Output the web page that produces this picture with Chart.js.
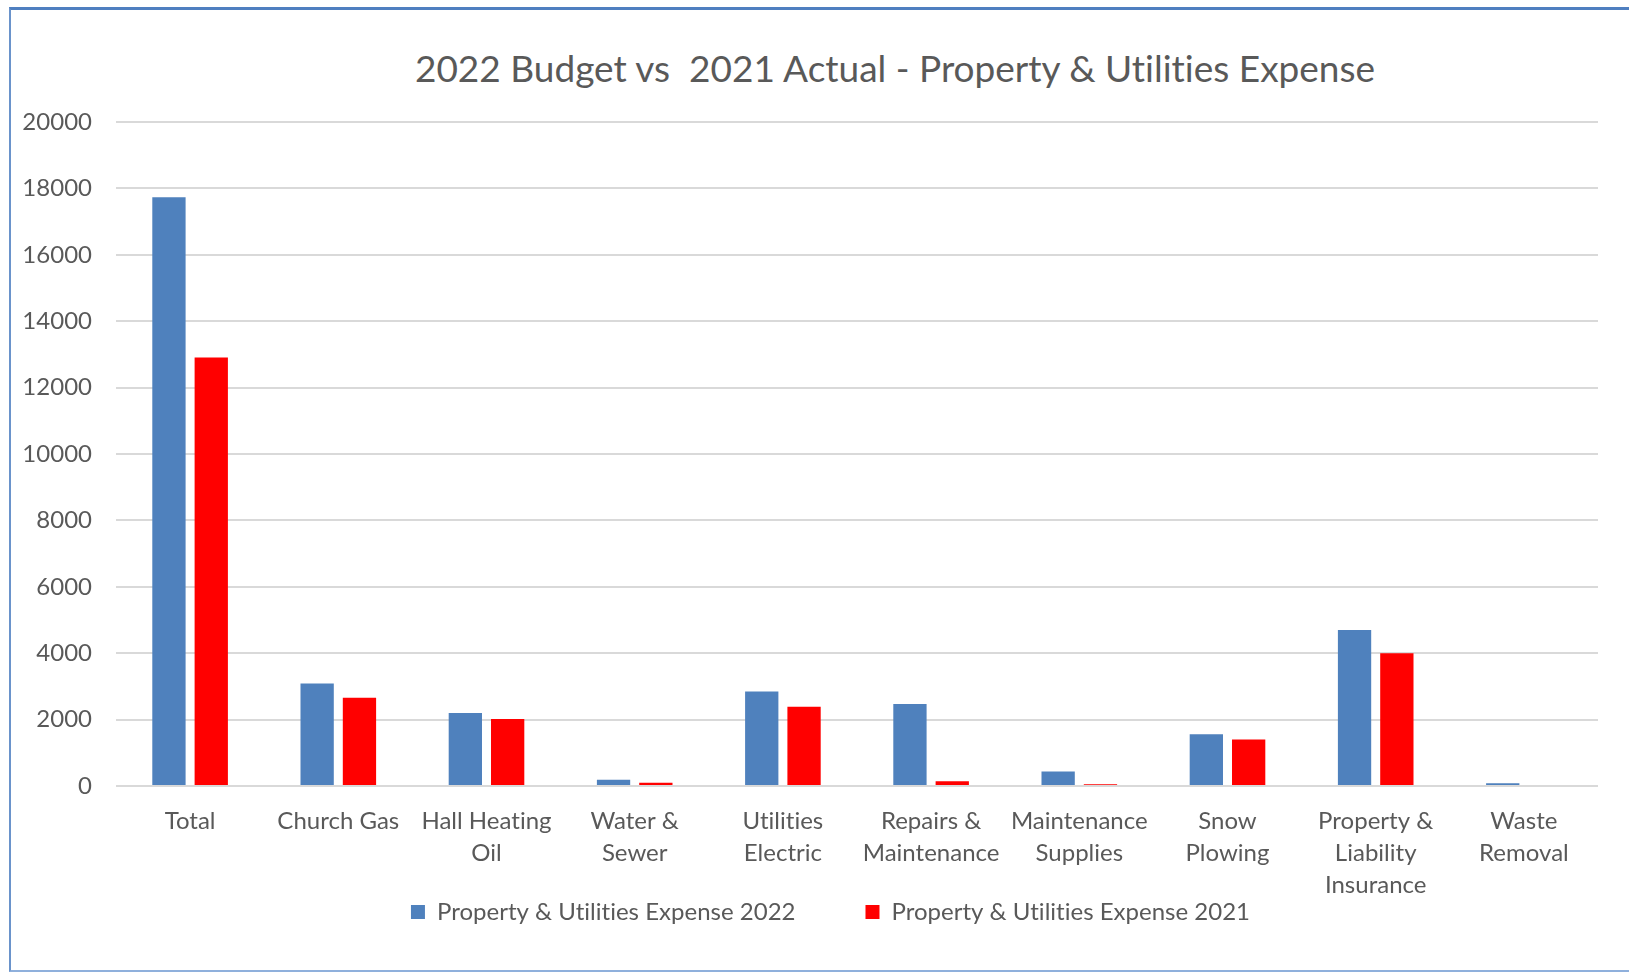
<!DOCTYPE html>
<html>
<head>
<meta charset="utf-8">
<script src="https://cdn.jsdelivr.net/npm/chart.js@4"></script>
<style>
    body { margin: 0; background: #fff; overflow: hidden; width: 1629px; height: 973px; position: relative; }
    #frame {
        position: absolute; left: 9px; top: 7px; width: 1700px; height: 960px;
        border-top: 3px solid #4f7fc0; border-left: 2px solid #6a93cb; border-bottom: 2px solid #8fb0dc;
    }
    #title {
        position: absolute; left: 0; top: 45px; width: 1790px; text-align: center;
        font-family: Lato, sans-serif; font-size: 37px; color: #595959; white-space: pre;
        font-variant-ligatures: none;
    }
    #wrap { position: absolute; left: 0; top: 0; width: 1629px; height: 973px; }
</style>
</head>
<body>
<div id="frame"></div>
<div id="title">2022 Budget vs  2021 Actual - Property &amp; Utilities Expense</div>
<div id="wrap"><canvas id="chart"></canvas></div>
<script>
const categories = [
    "Total",
    "Church Gas",
    ["Hall Heating", "Oil"],
    ["Water &", "Sewer"],
    ["Utilities", "Electric"],
    ["Repairs &", "Maintenance"],
    ["Maintenance", "Supplies"],
    ["Snow", "Plowing"],
    ["Property &", "Liability", "Insurance"],
    ["Waste", "Removal"]
];
const expense2022 = [17730, 3090, 2200, 190, 2850, 2470, 440, 1560, 4700, 80];
const expense2021 = [12910, 2660, 2015, 100, 2385, 145, 50, 1400, 3995, 0];
const yTicks = [0, 2000, 4000, 6000, 8000, 10000, 12000, 14000, 16000, 18000, 20000];

const grey = "#595959";

// tick labels may spill outside their scale box (legend sits close under the axis)
function noLabelClip(scale) {
    scale._computeLabelArea = () => undefined;
}

// a tiny letter spacing keeps Lato from joining "ti" into a ligature
const noLigatures = {
    id: "noLigatures",
    beforeDraw: chart => { chart.ctx.letterSpacing = "0.01px"; }
};

const ctx = document.getElementById("chart").getContext("2d");
new Chart(ctx, {
    type: "bar",
    data: {
        labels: categories,
        datasets: [
            { label: "Property & Utilities Expense 2022", data: expense2022, backgroundColor: "#4f81bd" },
            { label: "Property & Utilities Expense 2021", data: expense2021, backgroundColor: "#ff0000" }
        ]
    },
    plugins: [noLigatures],
    options: {
        responsive: true,
        maintainAspectRatio: false,
        animation: false,
        categoryPercentage: 0.571,
        barPercentage: 0.787,
        layout: { padding: { top: 122, left: 64, right: 31, bottom: 39 } },
        plugins: {
            tooltip: { enabled: false },
            legend: {
                position: "bottom",
                labels: {
                    font: { family: "Lato", size: 24 },
                    color: grey,
                    boxWidth: 14,
                    boxHeight: 14,
                    padding: 70
                }
            }
        },
        scales: {
            x: {
                grid: { display: false },
                border: { display: false },
                ticks: {
                    font: { family: "Lato", size: 24, lineHeight: 1.333 },
                    color: grey,
                    maxRotation: 0,
                    autoSkip: false,
                    padding: 11
                },
                afterFit: scale => { scale.height = 44; noLabelClip(scale); }
            },
            y: {
                min: 0,
                max: 20000,
                afterBuildTicks: scale => { scale.ticks = yTicks.map(v => ({ value: v })); },
                grid: { color: "#d9d9d9", lineWidth: 2, drawTicks: false },
                border: { display: false },
                ticks: {
                    font: { family: "Lato", size: 24 },
                    color: grey,
                    padding: 24,
                    callback: value => String(value)
                },
                afterFit: scale => { scale.width = 52; noLabelClip(scale); }
            }
        }
    }
});
</script>
</body>
</html>
